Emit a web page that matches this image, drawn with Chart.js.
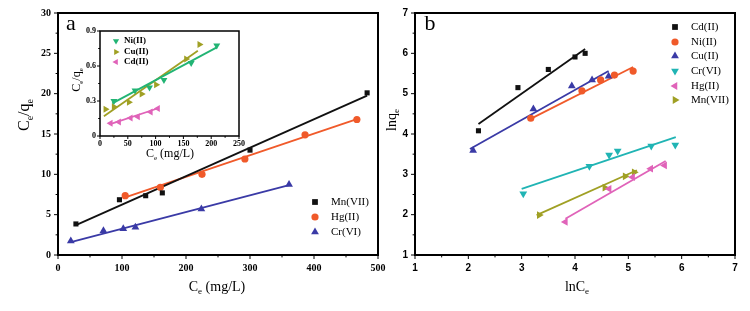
<!DOCTYPE html>
<html>
<head>
<meta charset="utf-8">
<script src="https://cdn.jsdelivr.net/npm/chart.js@4"></script>
<style>
  html, body { margin: 0; padding: 0; background: #fff; }
  #wrap { position: relative; width: 750px; height: 311px; overflow: hidden; }
  .box { position: absolute; }
</style>
</head>
<body>
<div id="wrap">
  <div class="box" style="left:0;top:0;width:395px;height:311px"><canvas id="chartA"></canvas></div>
  <div class="box" style="left:380px;top:0;width:370px;height:311px"><canvas id="chartB"></canvas></div>
  <div class="box" style="left:60px;top:20px;width:190px;height:150px"><canvas id="chartInset"></canvas></div>
</div>
<script>
// ---- panel a : Ce/qe vs Ce ----
const mnX = [28, 96, 137, 163, 300, 483];
const mnY = [3.85, 6.85, 7.35, 7.7, 13.0, 20.1];
const mnFitX = [28, 483];
const mnFitY = [3.7, 19.75];
const hgX = [105, 160, 225, 292, 386, 467];
const hgY = [7.35, 8.4, 10.0, 11.9, 14.9, 16.8];
const hgFitX = [105, 467];
const hgFitY = [7.15, 16.85];
const crX = [20, 71, 102, 121, 224, 361];
const crY = [1.75, 3.0, 3.25, 3.45, 5.7, 8.75];
const crFitX = [20, 361];
const crFitY = [1.6, 8.65];

// ---- inset of panel a ----
const niX = [25, 63, 89, 115, 164, 210];
const niY = [0.30, 0.39, 0.415, 0.48, 0.625, 0.775];
const niFitX = [22, 210];
const niFitY = [0.28, 0.76];
const cuX = [10, 25, 52, 75, 101, 155, 179];
const cuY = [0.23, 0.25, 0.29, 0.36, 0.44, 0.66, 0.785];
const cuFitX = [7, 176];
const cuFitY = [0.17, 0.73];
const cdX = [19, 34, 55, 68, 91, 104];
const cdY = [0.11, 0.12, 0.155, 0.165, 0.205, 0.235];
const cdFitX = [17, 106];
const cdFitY = [0.10, 0.24];

// ---- panel b : lnqe vs lnCe ----
const cdLnX = [2.19, 2.93, 3.5, 4.0, 4.19];
const cdLnY = [4.08, 5.15, 5.6, 5.91, 6.0];
const cdLnFitX = [2.19, 4.19];
const cdLnFitY = [4.25, 6.11];
const niLnX = [3.17, 4.13, 4.48, 4.74, 5.09];
const niLnY = [4.39, 5.07, 5.34, 5.46, 5.56];
const niLnFitX = [3.13, 5.09];
const niLnFitY = [4.35, 5.66];
const cuLnX = [2.09, 3.22, 3.94, 4.32, 4.63];
const cuLnY = [3.59, 4.62, 5.19, 5.34, 5.43];
const cuLnFitX = [2.03, 4.63];
const cuLnFitY = [3.63, 5.56];
const crLnX = [3.03, 4.27, 4.64, 4.8, 5.43, 5.88];
const crLnY = [2.52, 3.2, 3.48, 3.58, 3.7, 3.73];
const crLnFitX = [3.0, 5.89];
const crLnFitY = [2.64, 3.92];
const hgLnX = [3.82, 4.64, 5.08, 5.42, 5.68];
const hgLnY = [1.82, 2.64, 2.93, 3.14, 3.22];
const hgLnFitX = [3.82, 5.7];
const hgLnFitY = [1.9, 3.33];
const mnLnX = [3.33, 4.56, 4.94, 5.11];
const mnLnY = [1.99, 2.67, 2.95, 3.05];
const mnLnFitX = [3.28, 5.16];
const mnLnFitY = [1.99, 3.1];

const BLACK = '#111111';
const RED = '#f05a2a';
const BLUE = '#3a3aa6';
const CYAN = '#20b4b4';
const PINK = '#e063b9';
const OLIVE = '#a0a024';
const GREEN = '#22b474';

function pts(xs, ys) {
  return xs.map((x, i) => ({ x: x, y: ys[i] }));
}

function scatterSet(label, xs, ys, color, style, rot, r) {
  return {
    label: label,
    data: pts(xs, ys),
    showLine: false,
    pointStyle: style,
    pointRotation: rot,
    pointRadius: r,
    pointHoverRadius: r,
    backgroundColor: color,
    borderColor: color,
    borderWidth: 0
  };
}

function fitSet(xs, ys, color) {
  return {
    label: '',
    data: pts(xs, ys),
    showLine: true,
    pointRadius: 0,
    borderColor: color,
    borderWidth: 1.8,
    fill: false
  };
}

function marker(ctx, style, rot, x, y, r, color) {
  ctx.save();
  ctx.translate(x, y);
  ctx.rotate((rot || 0) * Math.PI / 180);
  ctx.fillStyle = color;
  ctx.beginPath();
  if (style === 'rect') {
    ctx.rect(-r * 0.8, -r * 0.8, r * 1.6, r * 1.6);
  } else if (style === 'circle') {
    ctx.arc(0, 0, r, 0, Math.PI * 2);
  } else {
    ctx.moveTo(0, -r);
    ctx.lineTo(r * 0.866, r * 0.5);
    ctx.lineTo(-r * 0.866, r * 0.5);
    ctx.closePath();
  }
  ctx.fill();
  ctx.restore();
}

// text with subscripts, parts = [[text, isSub], ...]
function rich(ctx, t) {
  ctx.save();
  ctx.translate(t.x, t.y);
  if (t.rot) ctx.rotate(t.rot * Math.PI / 180);
  const fontOf = sub => (t.weight || 'normal') + ' ' + (sub ? Math.round(t.size * 0.62) : t.size) + 'px "Liberation Serif", "DejaVu Serif", serif';
  let w = 0;
  t.parts.forEach(p => { ctx.font = fontOf(p[1]); w += ctx.measureText(p[0]).width; });
  let x = t.align === 'left' ? 0 : -w / 2;
  ctx.textAlign = 'left';
  ctx.textBaseline = 'middle';
  ctx.fillStyle = '#000';
  t.parts.forEach(p => {
    ctx.font = fontOf(p[1]);
    ctx.fillText(p[0], x, p[1] ? t.size * 0.32 : 0);
    x += ctx.measureText(p[0]).width;
  });
  ctx.restore();
}

const decor = {
  id: 'decor',
  beforeDraw(chart, args, o) {
    if (!o.fill) return;
    const a = chart.chartArea;
    chart.ctx.save();
    chart.ctx.fillStyle = '#fff';
    chart.ctx.fillRect(a.left, a.top, a.right - a.left, a.bottom - a.top);
    chart.ctx.restore();
  },
  afterDraw(chart, args, o) {
    const ctx = chart.ctx;
    const a = chart.chartArea;
    const sx = chart.scales.x;
    const sy = chart.scales.y;
    ctx.save();
    ctx.strokeStyle = '#000';
    ctx.lineWidth = 1;
    // ticks, major and minor, pointing out
    const nx = Math.round((sx.max - sx.min) / o.xMinor);
    for (let i = 0; i <= nx; i++) {
      const px = sx.getPixelForValue(sx.min + i * o.xMinor);
      const len = i % 2 === 0 ? o.tick : o.tick * 0.6;
      ctx.beginPath();
      ctx.moveTo(px, a.bottom);
      ctx.lineTo(px, a.bottom + len);
      ctx.stroke();
    }
    const ny = Math.round((sy.max - sy.min) / o.yMinor);
    for (let i = 0; i <= ny; i++) {
      const py = sy.getPixelForValue(sy.min + i * o.yMinor);
      const len = i % 2 === 0 ? o.tick : o.tick * 0.6;
      ctx.beginPath();
      ctx.moveTo(a.left, py);
      ctx.lineTo(a.left - len, py);
      ctx.stroke();
    }
    // frame
    ctx.lineWidth = o.frame;
    ctx.strokeRect(a.left, a.top, a.right - a.left, a.bottom - a.top);
    // titles and panel letter
    o.texts.forEach(t => rich(ctx, t));
    // legend
    o.legend.forEach(l => {
      const ds = chart.data.datasets[l.ds];
      marker(ctx, ds.pointStyle, ds.pointRotation, l.x, l.y, l.r, ds.backgroundColor);
      rich(ctx, { x: l.x + l.gap, y: l.y, size: l.size, weight: l.weight, align: 'left', parts: [[ds.label, 0]] });
    });
    ctx.restore();
  }
};

function axes(xmin, xmax, xstep, ymin, ymax, ystep, yWidth, xHeight, font, pad) {
  return {
    x: {
      type: 'linear', min: xmin, max: xmax,
      afterFit: s => { s.height = xHeight; },
      grid: { display: false, drawTicks: false },
      border: { display: false },
      ticks: { stepSize: xstep, padding: pad.x, maxRotation: 0, color: '#000', font: font }
    },
    y: {
      type: 'linear', min: ymin, max: ymax,
      afterFit: s => { s.width = yWidth; },
      grid: { display: false, drawTicks: false },
      border: { display: false },
      ticks: { stepSize: ystep, padding: pad.y, color: '#000', font: font }
    }
  };
}

const serifBold = { family: '"Liberation Serif", serif', weight: 'bold', size: 10 };
const sansBold = { family: '"Liberation Sans", Arial, sans-serif', weight: 'bold', size: 10 };

// panel a
new Chart(document.getElementById('chartA'), {
  type: 'scatter',
  data: {
    datasets: [
      scatterSet('Mn(VII)', mnX, mnY, BLACK, 'rect', 0, 3.6),
      scatterSet('Hg(II)', hgX, hgY, RED, 'circle', 0, 3.6),
      scatterSet('Cr(VI)', crX, crY, BLUE, 'triangle', 0, 4.5),
      fitSet(mnFitX, mnFitY, BLACK),
      fitSet(hgFitX, hgFitY, RED),
      fitSet(crFitX, crFitY, BLUE)
    ]
  },
  options: {
    responsive: true,
    maintainAspectRatio: false,
    animation: false,
    layout: { padding: { left: 0, right: 17, top: 12, bottom: 0 } },
    scales: axes(0, 500, 100, 0, 30, 5, 58, 56, serifBold, { x: 7, y: 7 }),
    plugins: {
      legend: { display: false },
      tooltip: { enabled: false },
      decor: {
        frame: 2, tick: 4, xMinor: 50, yMinor: 2.5,
        texts: [
          { x: 25, y: 115, size: 16, rot: -90, parts: [['C', 0], ['e', 1], ['/q', 0], ['e', 1]] },
          { x: 217, y: 287, size: 14, parts: [['C', 0], ['e', 1], [' (mg/L)', 0]] },
          { x: 71, y: 24, size: 22, parts: [['a', 0]] }
        ],
        legend: [
          { ds: 0, x: 315, y: 202, r: 3.6, gap: 16, size: 11 },
          { ds: 1, x: 315, y: 217, r: 3.6, gap: 16, size: 11 },
          { ds: 2, x: 315, y: 232, r: 4.5, gap: 16, size: 11 }
        ]
      }
    }
  },
  plugins: [decor]
});

// panel b
new Chart(document.getElementById('chartB'), {
  type: 'scatter',
  data: {
    datasets: [
      scatterSet('Cd(II)', cdLnX, cdLnY, BLACK, 'rect', 0, 3.6),
      scatterSet('Ni(II)', niLnX, niLnY, RED, 'circle', 0, 3.6),
      scatterSet('Cu(II)', cuLnX, cuLnY, BLUE, 'triangle', 0, 4.5),
      scatterSet('Cr(VI)', crLnX, crLnY, CYAN, 'triangle', 180, 4.5),
      scatterSet('Hg(II)', hgLnX, hgLnY, PINK, 'triangle', -90, 4.5),
      scatterSet('Mn(VII)', mnLnX, mnLnY, OLIVE, 'triangle', 90, 4.5),
      fitSet(cdLnFitX, cdLnFitY, BLACK),
      fitSet(niLnFitX, niLnFitY, RED),
      fitSet(cuLnFitX, cuLnFitY, BLUE),
      fitSet(crLnFitX, crLnFitY, CYAN),
      fitSet(hgLnFitX, hgLnFitY, PINK),
      fitSet(mnLnFitX, mnLnFitY, OLIVE)
    ]
  },
  options: {
    responsive: true,
    maintainAspectRatio: false,
    animation: false,
    layout: { padding: { left: 0, right: 15, top: 12, bottom: 0 } },
    scales: axes(1, 7, 1, 1, 7, 1, 35, 56, sansBold, { x: 7, y: 7 }),
    plugins: {
      legend: { display: false },
      tooltip: { enabled: false },
      decor: {
        frame: 2, tick: 4, xMinor: 0.5, yMinor: 0.5,
        texts: [
          { x: 12, y: 120, size: 14, rot: -90, parts: [['lnq', 0], ['e', 1]] },
          { x: 197, y: 287, size: 14, parts: [['lnC', 0], ['e', 1]] },
          { x: 50, y: 24, size: 22, parts: [['b', 0]] }
        ],
        legend: [
          { ds: 0, x: 295, y: 27, r: 3.6, gap: 16, size: 11 },
          { ds: 1, x: 295, y: 42, r: 3.6, gap: 16, size: 11 },
          { ds: 2, x: 295, y: 56, r: 4.5, gap: 16, size: 11 },
          { ds: 3, x: 295, y: 71, r: 4.5, gap: 16, size: 11 },
          { ds: 4, x: 295, y: 86, r: 4.5, gap: 16, size: 11 },
          { ds: 5, x: 295, y: 100, r: 4.5, gap: 16, size: 11 }
        ]
      }
    }
  },
  plugins: [decor]
});

// inset
new Chart(document.getElementById('chartInset'), {
  type: 'scatter',
  data: {
    datasets: [
      scatterSet('Ni(II)', niX, niY, GREEN, 'triangle', 180, 4),
      scatterSet('Cu(II)', cuX, cuY, OLIVE, 'triangle', 90, 4),
      scatterSet('Cd(II)', cdX, cdY, PINK, 'triangle', -90, 4),
      fitSet(niFitX, niFitY, GREEN),
      fitSet(cuFitX, cuFitY, OLIVE),
      fitSet(cdFitX, cdFitY, PINK)
    ]
  },
  options: {
    responsive: true,
    maintainAspectRatio: false,
    animation: false,
    layout: { padding: { left: 0, right: 11, top: 11, bottom: 0 } },
    scales: axes(0, 250, 50, 0, 0.9, 0.3, 40, 34, { family: '"Liberation Serif", serif', weight: 'bold', size: 8 }, { x: 3, y: 4 }),
    plugins: {
      legend: { display: false },
      tooltip: { enabled: false },
      decor: {
        fill: true, frame: 1.5, tick: 3, xMinor: 25, yMinor: 0.15,
        texts: [
          { x: 17, y: 60, size: 12, rot: -90, parts: [['C', 0], ['e', 1], ['/q', 0], ['e', 1]] },
          { x: 110, y: 134, size: 12, parts: [['C', 0], ['e', 1], [' (mg/L)', 0]] }
        ],
        legend: [
          { ds: 0, x: 56, y: 21, r: 3.6, gap: 8, size: 9, weight: 'bold' },
          { ds: 1, x: 56, y: 32, r: 3.6, gap: 8, size: 9, weight: 'bold' },
          { ds: 2, x: 56, y: 42, r: 3.6, gap: 8, size: 9, weight: 'bold' }
        ]
      }
    }
  },
  plugins: [decor]
});
</script>
</body>
</html>
